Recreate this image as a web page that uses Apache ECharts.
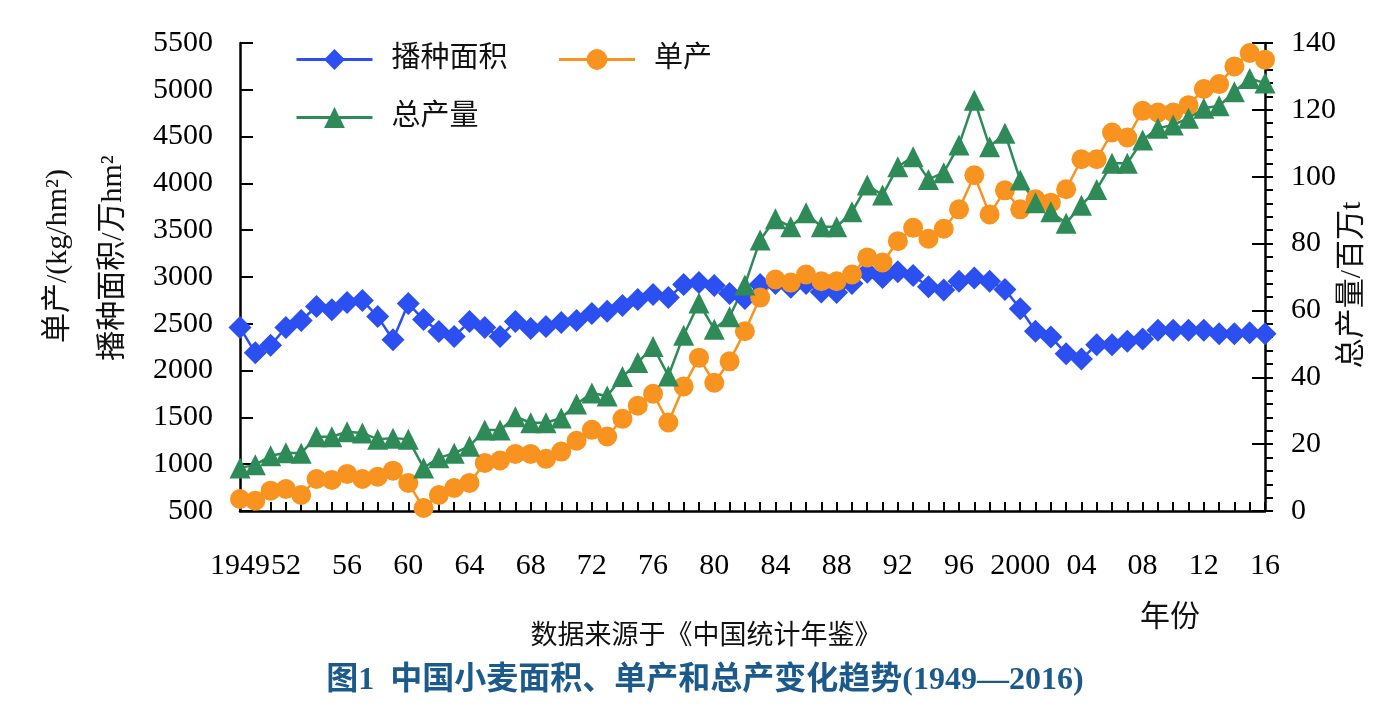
<!DOCTYPE html>
<html>
<head>
<meta charset="utf-8">
<script src="https://cdn.jsdelivr.net/npm/echarts@6/dist/echarts.min.js"></script>
<style>
html,body{margin:0;padding:0;background:#fff;}
#chart{width:1378px;height:722px;}
</style>
</head>
<body>
<div id="chart"></div>
<script>
const years = [1949,1950,1951,1952,1953,1954,1955,1956,1957,1958,1959,1960,1961,1962,1963,1964,1965,1966,1967,1968,1969,1970,1971,1972,1973,1974,1975,1976,1977,1978,1979,1980,1981,1982,1983,1984,1985,1986,1987,1988,1989,1990,1991,1992,1993,1994,1995,1996,1997,1998,1999,2000,2001,2002,2003,2004,2005,2006,2007,2008,2009,2010,2011,2012,2013,2014,2015,2016];

// 播种面积 (万hm²) - left axis
const areaData = [2460,2190,2270,2460,2535,2685,2650,2727,2750,2577,2330,2716,2545,2417,2363,2524,2460,2363,2524,2450,2470,2513,2535,2610,2634,2695,2760,2813,2780,2920,2940,2910,2823,2770,2920,2930,2890,2930,2840,2834,2930,3050,2995,3055,3016,2895,2860,2955,2990,2955,2866,2660,2420,2360,2181,2124,2277,2277,2313,2338,2430,2430,2430,2430,2395,2395,2405,2395];

// 单产 (kg/hm²) - left axis
const yieldData = [628,610,717,735,671,842,832,896,842,867,931,800,532,671,746,800,1014,1039,1110,1110,1057,1135,1250,1367,1296,1485,1624,1753,1446,1831,2138,1870,2099,2420,2780,2973,2940,3027,2955,2955,3027,3209,3155,3383,3525,3409,3516,3723,4087,3669,3926,3723,3830,3794,3937,4258,4258,4544,4490,4775,4758,4758,4836,5008,5061,5250,5393,5322];

// 总产量 (百万t) - right axis
const prodData = [12.9,13.8,16.5,17.4,17.3,22.2,22.2,23.7,23.3,21.5,21.8,21.5,12.9,15.9,17.3,19.4,24.2,24.2,28.2,26.4,26.4,27.8,32.0,35.3,34.4,40.2,44.4,49.2,40.4,52.6,62.2,54.4,58.1,67.6,81.1,87.4,85.0,89.2,85.0,85.0,89.5,97.5,94.5,103.0,106.0,99.2,101.2,109.5,122.9,109.0,113.0,99.0,92.2,89.5,86.1,91.5,96.2,104.0,104.0,111.0,114.5,115.5,117.5,120.5,121.2,125.4,129.4,128.0];

// x tick labels
const labelYears = [1949,1952,1956,1960,1964,1968,1972,1976,1980,1984,1988,1992,1996,2000,2004,2008,2012,2016];
const labelTexts = ['1949','52','56','60','64','68','72','76','80','84','88','92','96','2000','04','08','12','16'];

const seriesNames = ['播种面积','单产','总产量'];
const leftName1 = '单产/(kg/hm²)';
const leftName2 = '播种面积/万hm²';
const rightName = '总产量/百万t';
const xName = '年份';
const sourceText = '数据来源于《中国统计年鉴》';
const titleText = '图1  中国小麦面积、单产和总产变化趋势(1949—2016)';

const FONT = "'Liberation Serif', 'Noto Sans CJK SC', serif";
const BLUE = '#2b4ff0', ORANGE = '#f7931e', GREEN = '#2e8b57';

const chart = echarts.init(document.getElementById('chart'), null, {renderer:'canvas'});

const legendText = {fontSize: 29, color: '#111', fontFamily: FONT, padding: [0,0,0,14]};
const option = {
  backgroundColor: '#ffffff',
  animation: false,
  textStyle: {fontFamily: FONT},
  grid: {left: 240, right: 113, top: 43, bottom: 211, containLabel: false},
  legend: [
    {data: [seriesNames[0], seriesNames[1]], left: 290, top: 40, itemWidth: 76, itemHeight: 26, itemGap: 50,
     lineStyle: {width: 3}, textStyle: legendText},
    {data: [seriesNames[2]], left: 290, top: 98, itemWidth: 76, itemHeight: 26,
     lineStyle: {width: 3}, textStyle: legendText}
  ],
  xAxis: {
    type: 'category', data: years, boundaryGap: false,
    axisLine: {lineStyle: {color: '#000', width: 2.5}},
    axisTick: {inside: true, length: 9, interval: 0, lineStyle: {color: '#000', width: 2}},
    axisLabel: {
      interval: 0, margin: 40, fontSize: 30, color: '#000', fontFamily: FONT,
      formatter: function (v) { const i = labelYears.indexOf(Number(v)); return i >= 0 ? labelTexts[i] : ''; }
    },
    splitLine: {show: false}
  },
  yAxis: [
    {type: 'value', min: 500, max: 5500, interval: 500, position: 'left',
     axisLine: {show: true, lineStyle: {color: '#000', width: 2.5}},
     axisTick: {show: true, inside: true, length: 13, lineStyle: {color: '#000', width: 2}},
     axisLabel: {margin: 27, fontSize: 30, color: '#000', fontFamily: FONT, formatter: function (v) { return String(v); }},
     splitLine: {show: false}},
    {type: 'value', min: 0, max: 140, interval: 20, position: 'right',
     axisLine: {show: true, lineStyle: {color: '#000', width: 2.5}},
     axisTick: {show: true, inside: false, length: 8, lineStyle: {color: '#000', width: 2}},
     minorTick: {show: true, splitNumber: 5, length: 8, lineStyle: {color: '#000', width: 2}},
     axisLabel: {margin: 26, fontSize: 30, color: '#000', fontFamily: FONT, formatter: function (v) { return String(v); }},
     splitLine: {show: false}},
    {type: 'value', min: 0, max: 140, interval: 20, position: 'right',
     axisLine: {show: false},
     axisTick: {show: true, inside: true, length: 13, lineStyle: {color: '#000', width: 2}},
     axisLabel: {show: false},
     splitLine: {show: false}}
  ],
  series: [
    {name: seriesNames[0], type: 'line', yAxisIndex: 0, data: areaData,
     symbol: 'diamond', symbolSize: 23, showAllSymbol: true,
     lineStyle: {color: BLUE, width: 2.5}, itemStyle: {color: BLUE}},
    {name: seriesNames[1], type: 'line', yAxisIndex: 0, data: yieldData,
     symbol: 'circle', symbolSize: 20, showAllSymbol: true,
     lineStyle: {color: ORANGE, width: 2.5}, itemStyle: {color: ORANGE}},
    {name: seriesNames[2], type: 'line', yAxisIndex: 1, data: prodData,
     symbol: 'triangle', symbolSize: 21, showAllSymbol: true,
     lineStyle: {color: GREEN, width: 2.5}, itemStyle: {color: GREEN}}
  ],
  graphic: [
    {type: 'text', x: 58, y: 256, rotation: Math.PI/2,
     style: {text: leftName1, font: "30px " + FONT, fill: '#111', align: 'center', verticalAlign: 'middle'}},
    {type: 'text', x: 113, y: 258, rotation: Math.PI/2,
     style: {text: leftName2, font: "30px " + FONT, fill: '#111', align: 'center', verticalAlign: 'middle'}},
    {type: 'text', x: 1352, y: 285, rotation: Math.PI/2,
     style: {text: rightName, font: "30px " + FONT, fill: '#111', align: 'center', verticalAlign: 'middle'}},
    {type: 'text', x: 1170, y: 618,
     style: {text: xName, font: "30px " + FONT, fill: '#111', align: 'center', verticalAlign: 'middle'}},
    {type: 'text', x: 706, y: 637,
     style: {text: sourceText, font: "27px " + FONT, fill: '#111', align: 'center', verticalAlign: 'middle'}},
    {type: 'text', x: 705, y: 681,
     style: {text: titleText, font: "bold 32px " + FONT, fill: '#1d5a8c', align: 'center', verticalAlign: 'middle'}}
  ]
};
chart.setOption(option);
</script>
</body>
</html>
